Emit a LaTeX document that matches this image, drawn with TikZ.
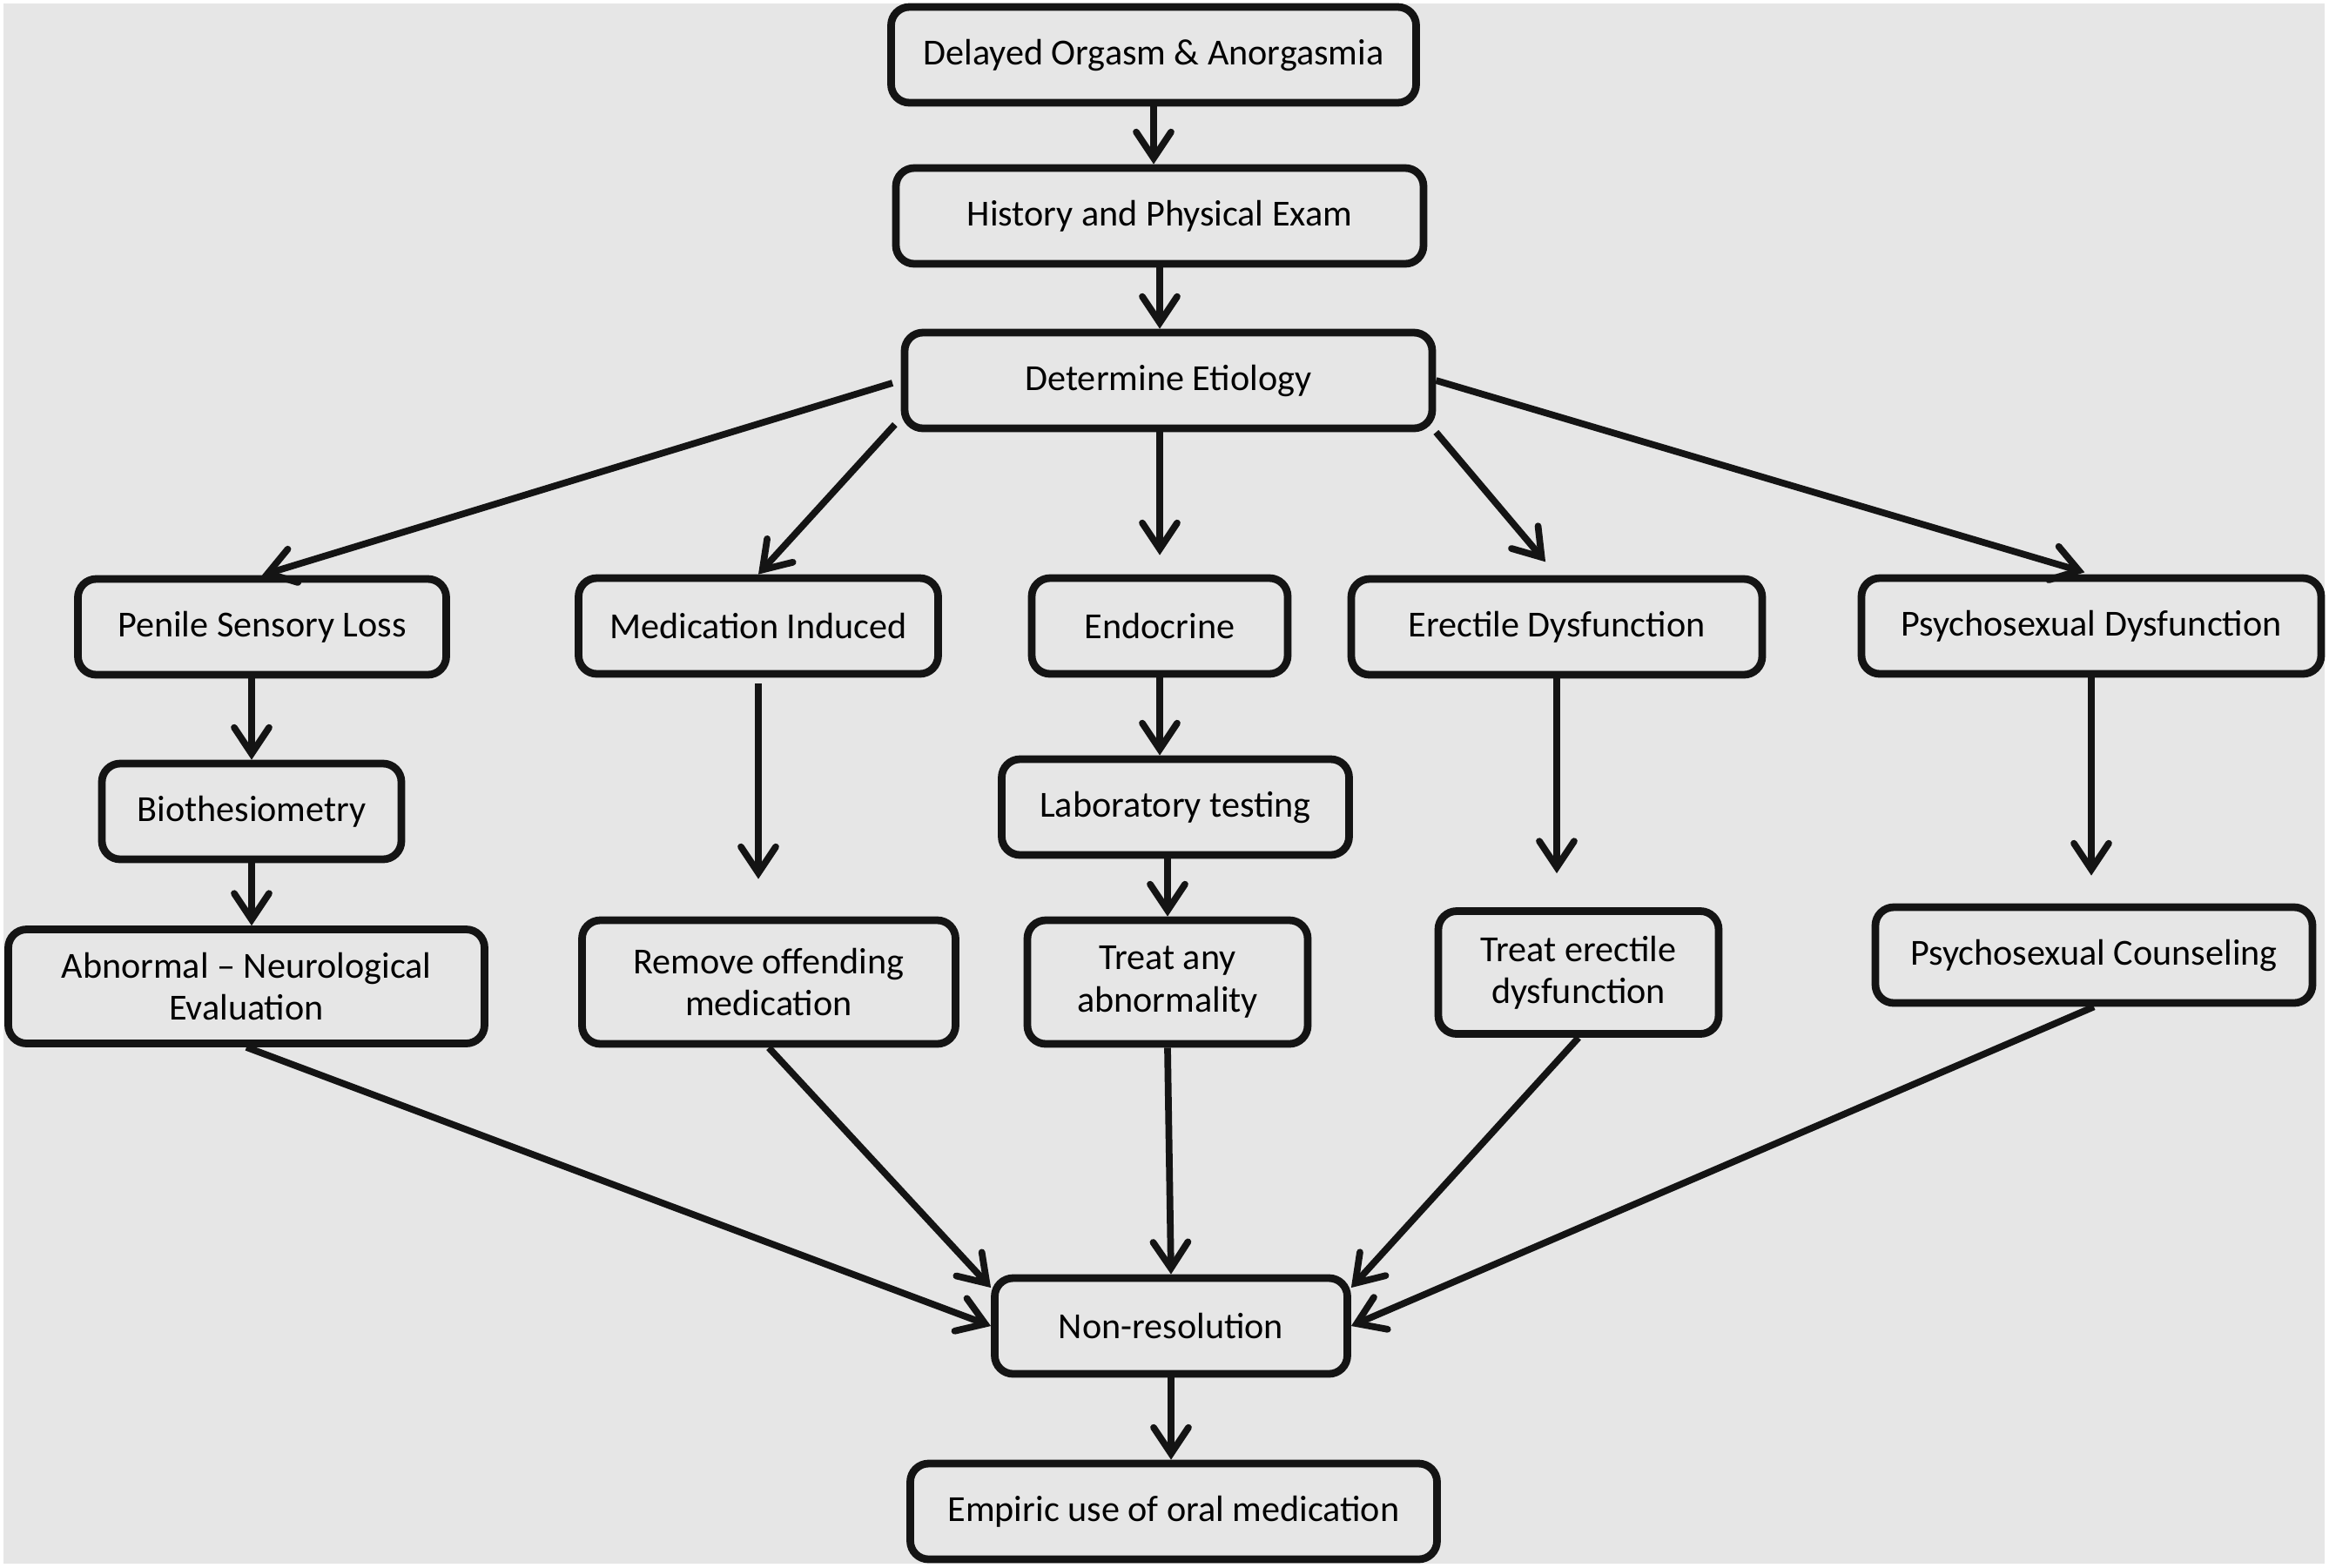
\documentclass[tikz,border=0pt]{standalone}
\usepackage{fontspec}
\setmainfont{Carlito}
\usetikzlibrary{arrows.meta,positioning}
\definecolor{PanelGray}{RGB}{230,230,230}
\definecolor{LineBlack}{RGB}{20,20,20}
\tikzset{
  flowbox/.style={
    draw=LineBlack,
    rounded corners=6pt,
    line width=2.5pt,
    align=center,
    minimum height=1.1cm,
    fill=PanelGray,
    font=\fontsize{12}{13.8}\selectfont
  },
  arrow/.style={-{Straight Barb[length=0.3cm,width=0.4cm,line cap=round]},line width=2.2pt,draw=LineBlack}
}
\begin{document}
\begin{tikzpicture}

\useasboundingbox (0,0) rectangle (26.75,-18);
\fill[white] (0,0) rectangle (26.75,-18);
\fill[PanelGray] (0.04,-0.04) rectangle (26.70,-17.96);

% main trunk
\node[flowbox,minimum width=6.03cm] (top) at (13.25,-0.63) {Delayed Orgasm \& Anorgasmia};
\node[flowbox,minimum width=6.06cm] (hist) at (13.32,-2.48) {History and Physical Exam};
\node[flowbox,minimum width=6.06cm] (etio) at (13.42,-4.37) {Determine Etiology};

% etiologies
\node[flowbox,minimum width=4.23cm] (pen) at (3.01,-7.20) {Penile Sensory Loss};
\node[flowbox,minimum width=4.13cm] (med) at (8.71,-7.19) {Medication Induced};
\node[flowbox,minimum width=2.94cm] (endo) at (13.32,-7.19) {Endocrine};
\node[flowbox,minimum width=4.72cm] (ed) at (17.88,-7.20) {Erectile Dysfunction};
\node[flowbox,minimum width=5.28cm] (psy) at (24.02,-7.19) {Psychosexual Dysfunction};

% work-up and treatment
\node[flowbox,minimum width=3.44cm] (bio) at (2.89,-9.32) {Biothesiometry};
\node[flowbox,minimum width=3.99cm] (lab) at (13.50,-9.27) {Laboratory testing};
\node[flowbox,minimum width=5.47cm,minimum height=1.31cm] (abn) at (2.83,-11.33) {Abnormal -- Neurological\\Evaluation};
\node[flowbox,minimum width=4.29cm,minimum height=1.42cm] (rem) at (8.83,-11.28) {Remove offending\\medication};
\node[flowbox,minimum width=3.22cm,minimum height=1.42cm] (trt) at (13.41,-11.28) {Treat any\\abnormality};
\node[flowbox,minimum width=3.22cm,minimum height=1.41cm] (tred) at (18.13,-11.17) {Treat erectile\\dysfunction};
\node[flowbox,minimum width=5.02cm] (cou) at (24.05,-10.97) {Psychosexual Counseling};

% outcome
\node[flowbox,minimum width=4.05cm] (nonres) at (13.45,-15.23) {Non-resolution};
\node[flowbox,minimum width=6.05cm] (emp) at (13.48,-17.36) {Empiric use of oral medication};

\draw[arrow] (top.south) -- (top.south |- hist.north);
\draw[arrow] (hist.south) -- (hist.south |- etio.north);

\draw[arrow,shorten <=0.1cm] (etio.west) -- (pen.north);
\draw[arrow,shorten <=0.1cm] (etio.188) -- (med.north);
\draw[arrow,shorten >=0.22cm] (endo.north |- etio.south) -- (endo.north);
\draw[arrow,shorten >=0.2cm] (etio.south east) -- (ed.north);
\draw[arrow,shorten >=0.08cm] (etio.east) -- (psy.north);

\draw[arrow] (pen.south -| bio.north) -- (bio.north);
\draw[arrow] (bio.south) -- (bio.south |- abn.north);
\draw[arrow,shorten <=0.07cm,shorten >=0.43cm] (med.south) -- (med.south |- rem.north);
\draw[arrow] (endo.south) -- (endo.south |- lab.north);
\draw[arrow] (lab.south -| trt.north) -- (trt.north);
\draw[arrow,shorten >=0.39cm] (ed.south) -- (ed.south |- tred.north);
\draw[arrow,shorten >=0.32cm] (psy.south) -- (psy.south |- cou.north);

\draw[arrow] (abn.south) -- (nonres.west);
\draw[arrow] (rem.south) -- (nonres.168);
\draw[arrow] (trt.south) -- (nonres.north);
\draw[arrow] (tred.south) -- (nonres.12);
\draw[arrow] (cou.south) -- (nonres.east);

\draw[arrow] (nonres.south) -- (nonres.south |- emp.north);

\end{tikzpicture}
\end{document}
